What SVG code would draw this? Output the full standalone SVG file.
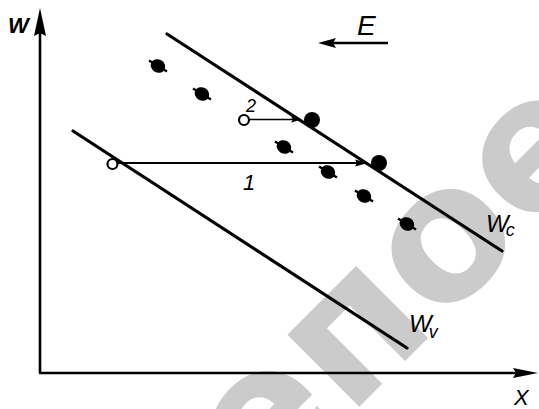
<svg xmlns="http://www.w3.org/2000/svg" width="539" height="409" viewBox="0 0 539 409">
<style>
.wm{font-family:"DejaVu Sans",sans-serif;font-weight:bold;font-size:186px;fill:#cbcbcb}
.ax{stroke:#000;stroke-width:2.6;fill:none}
.ln{stroke:#000;stroke-width:3.2;fill:none;stroke-linecap:round}
.ar{stroke:#000;fill:none}
.lb{font-family:"Liberation Sans",Arial,sans-serif;font-style:italic;fill:#000}
.op{fill:#fff;stroke:#000;stroke-width:2.2}
.fd{fill:#000}
</style>
<defs>
<g id="dot"><ellipse cx="0" cy="0" rx="7.5" ry="6.5" transform="rotate(30)" fill="#000"/><line x1="-9" y1="-5.5" x2="9" y2="5.5" stroke="#000" stroke-width="2.4"/></g>
</defs>
<rect width="539" height="409" fill="#fff"/>
<g id="watermark"><text class="wm" transform="translate(259,507) rotate(-45)" x="0" y="0">епое</text></g>
<g id="axes">
<line class="ax" x1="40" y1="373" x2="40" y2="22"/>
<polygon points="40,8 46,36 40,33 34,36" fill="#000"/>
<line class="ax" x1="39" y1="373" x2="524" y2="373"/>
<polygon points="538,373 513,368 516,373 513,378" fill="#000"/>
<text class="lb" x="8" y="33" font-size="22" font-weight="bold">W</text>
<text class="lb" x="514" y="405" font-size="22">X</text>
</g>
<g id="line-Wc">
<line class="ln" x1="167" y1="34" x2="502" y2="251"/>
<text class="lb" x="486" y="232" font-size="24">W<tspan dx="-3" dy="4" font-size="18">c</tspan></text>
</g>
<g id="line-Wv">
<line class="ln" x1="73" y1="131" x2="407" y2="348"/>
<text class="lb" x="409" y="332" font-size="24">W<tspan dx="-3" dy="6" font-size="18">v</tspan></text>
</g>
<g id="field-E">
<line class="ar" stroke-width="2.4" x1="330" y1="43" x2="388" y2="43"/>
<polygon points="318,43 336,38 333,43 336,48" fill="#000"/>
<text class="lb" x="357" y="35" font-size="28">E</text>
</g>
<g id="points">
<use href="#dot" x="158" y="66"/>
<use href="#dot" x="202" y="94"/>
<use href="#dot" x="284" y="147"/>
<use href="#dot" x="328" y="172"/>
<use href="#dot" x="364" y="196"/>
<use href="#dot" x="407" y="224"/>
<circle class="fd" cx="312" cy="120" r="8"/>
<circle class="fd" cx="379" cy="163" r="8"/>
</g>
<g id="connectors">
<line class="ar" stroke-width="2" x1="118" y1="163" x2="358" y2="163"/>
<polygon points="368,163 355,159.5 357,163 355,166.5" fill="#000"/>
<line class="ar" stroke-width="1.6" x1="249" y1="119.5" x2="294" y2="119.5"/>
<polygon points="302,119.5 291,116.5 293,119.5 291,122.5" fill="#000"/>
<circle class="op" cx="112.5" cy="164" r="5"/>
<circle class="op" cx="244" cy="120" r="5"/>
<text class="lb" x="246" y="112" font-size="18">2</text>
<text class="lb" x="243" y="190" font-size="22">1</text>
</g>
</svg>
